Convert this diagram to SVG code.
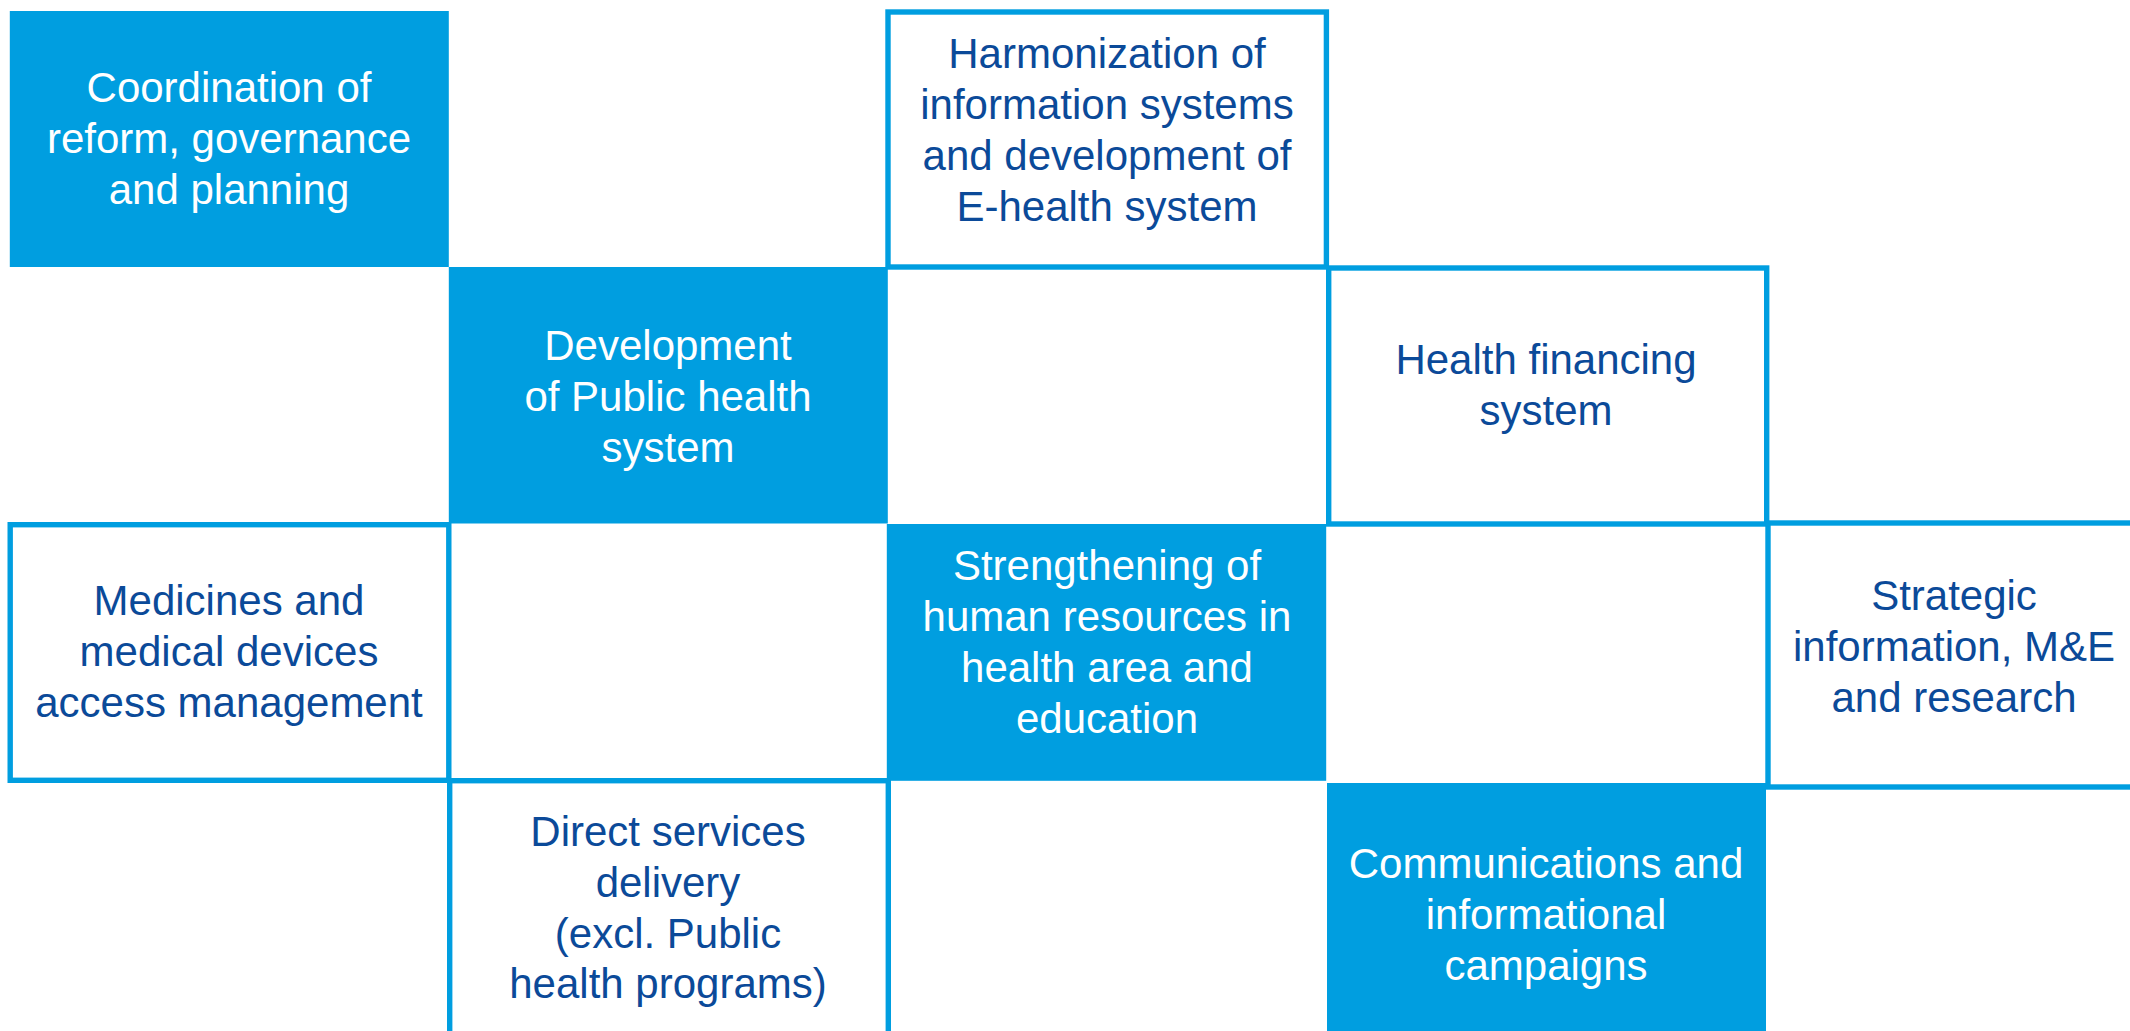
<svg xmlns="http://www.w3.org/2000/svg" width="2130" height="1031" viewBox="0 0 2130 1031">
<style>
.fill{fill:#009ee0;}
.out{fill:none;stroke:#009ee0;stroke-width:5.4;}
text{font-family:"Liberation Sans",Arial,sans-serif;font-size:42px;text-anchor:middle;}
.w{fill:#ffffff;}
.b{fill:#0b4a99;}
</style>
<rect x="0" y="0" width="2130" height="1031" fill="#ffffff"/>
<g id="n-coordination">
<rect class="fill" x="9.8" y="11" width="439" height="256"/>
<text class="w" x="229" y="102">Coordination of</text>
<text class="w" x="229" y="153">reform, governance</text>
<text class="w" x="229" y="204">and planning</text>
</g>
<g id="n-development">
<rect class="fill" x="448.8" y="267" width="439" height="256.5"/>
<text class="w" x="668" y="360">Development</text>
<text class="w" x="668" y="411">of Public health</text>
<text class="w" x="668" y="462">system</text>
</g>
<g id="n-strengthening">
<rect class="fill" x="886.8" y="524" width="439.4" height="256.8"/>
<text class="w" x="1107" y="580">Strengthening of</text>
<text class="w" x="1107" y="631">human resources in</text>
<text class="w" x="1107" y="682">health area and</text>
<text class="w" x="1107" y="733">education</text>
</g>
<g id="n-communications">
<rect class="fill" x="1327" y="783" width="439" height="260"/>
<text class="w" x="1546" y="878">Communications and</text>
<text class="w" x="1546" y="929">informational</text>
<text class="w" x="1546" y="980">campaigns</text>
</g>
<g id="n-harmonization">
<rect class="out" x="888" y="12" width="438.4" height="255"/>
<text class="b" x="1107" y="68">Harmonization of</text>
<text class="b" x="1107" y="119">information systems</text>
<text class="b" x="1107" y="170">and development of</text>
<text class="b" x="1107" y="221">E-health system</text>
</g>
<g id="n-financing">
<rect class="out" x="1328.7" y="268" width="438" height="256"/>
<text class="b" x="1546" y="374">Health financing</text>
<text class="b" x="1546" y="425">system</text>
</g>
<g id="n-medicines">
<rect class="out" x="10.2" y="524.7" width="438.6" height="255.6"/>
<text class="b" x="229" y="615">Medicines and</text>
<text class="b" x="229" y="666">medical devices</text>
<text class="b" x="229" y="717">access management</text>
</g>
<g id="n-direct">
<rect class="out" x="449.7" y="780.7" width="438.6" height="400"/>
<text class="b" x="668" y="846">Direct services</text>
<text class="b" x="668" y="897">delivery</text>
<text class="b" x="668" y="948">(excl. Public</text>
<text class="b" x="668" y="998">health programs)</text>
</g>
<g id="n-strategic">
<rect class="out" x="1768" y="523" width="438" height="264"/>
<text class="b" x="1954" y="610">Strategic</text>
<text class="b" x="1954" y="661">information, M&amp;E</text>
<text class="b" x="1954" y="712">and research</text>
</g>
<g id="connectors"></g>
</svg>
